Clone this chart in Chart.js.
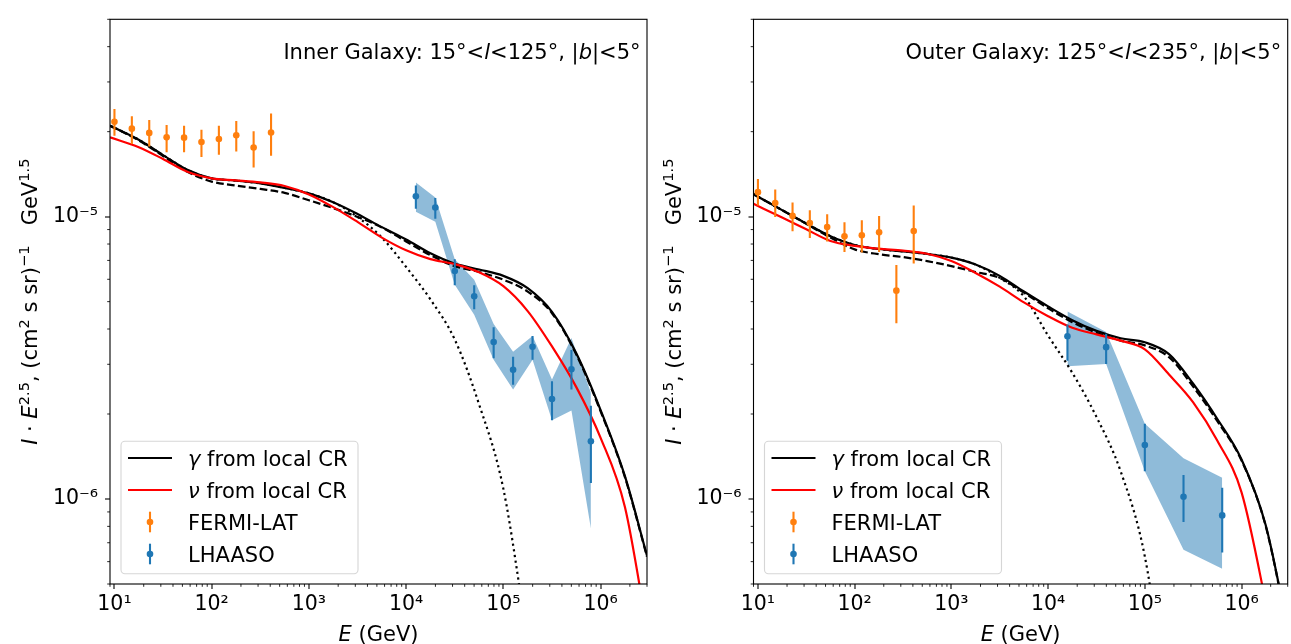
<!DOCTYPE html>
<html><head><meta charset="utf-8">
<script src="https://cdn.jsdelivr.net/npm/chart.js@4"></script>
<style>
html,body{margin:0;padding:0;background:#fff;width:1291px;height:644px;overflow:hidden}
canvas{position:absolute;top:0}
#c1{left:0}
#c2{left:660px}
</style></head><body>
<canvas id="c1" width="660" height="644"></canvas>
<canvas id="c2" width="631" height="644"></canvas>
<script>
// ---------------- data ----------------
const xRange = [9, 3e6];
const yRange = [5e-7, 5e-5];
const xMajorTicks = [10, 100, 1e3, 1e4, 1e5, 1e6];
const yMajorTicks = [1e-6, 1e-5];

// energy grid of the model curves (GeV)
const curveE = [9, 17.78, 31.62, 56.23, 100, 177.8, 316.2, 562.3, 1000, 1778, 3162, 5623, 1e4, 17783, 31623, 56234, 1e5, 177828, 316228, 562341, 1e6, 1778279, 3e6];

// Inner Galaxy model curves
const innerGamma  = [2.10e-5, 1.873e-5, 1.652e-5, 1.465e-5, 1.366e-5, 1.342e-5, 1.312e-5, 1.264e-5, 1.209e-5, 1.125e-5, 1.022e-5, 9.18e-6, 8.30e-6, 7.42e-6, 6.82e-6, 6.50e-6, 6.17e-6, 5.58e-6, 4.60e-6, 3.28e-6, 2.065e-6, 1.205e-6, 6.30e-7];
const innerNu     = [1.91e-5, 1.762e-5, 1.600e-5, 1.442e-5, 1.366e-5, 1.345e-5, 1.322e-5, 1.284e-5, 1.199e-5, 1.081e-5, 9.58e-6, 8.43e-6, 7.60e-6, 7.07e-6, 6.79e-6, 6.35e-6, 5.67e-6, 4.63e-6, 3.47e-6, 2.49e-6, 1.647e-6, 9.37e-7, 3.48e-7];
const innerDashed = [2.10e-5, 1.863e-5, 1.639e-5, 1.442e-5, 1.331e-5, 1.289e-5, 1.254e-5, 1.214e-5, 1.143e-5, 1.072e-5, 9.98e-6, 9.16e-6, 8.17e-6, 7.30e-6, 6.68e-6, 6.37e-6, 5.98e-6, 5.43e-6, 4.55e-6, 3.25e-6, 2.044e-6, 1.195e-6, 6.25e-7];
const innerDotted = [2.10e-5, 1.873e-5, 1.652e-5, 1.465e-5, 1.366e-5, 1.342e-5, 1.312e-5, 1.264e-5, 1.209e-5, 1.125e-5, 9.98e-6, 8.43e-6, 6.63e-6, 5.09e-6, 3.67e-6, 2.165e-6, 1.086e-6, 3.14e-7];

// Outer Galaxy model curves
const outerGamma  = [1.20e-5, 1.055e-5, 9.46e-6, 8.53e-6, 7.94e-6, 7.68e-6, 7.53e-6, 7.38e-6, 7.16e-6, 6.77e-6, 6.17e-6, 5.43e-6, 4.81e-6, 4.30e-6, 3.94e-6, 3.71e-6, 3.59e-6, 3.26e-6, 2.56e-6, 1.92e-6, 1.380e-6, 8.07e-7, 3.48e-7];
const outerNu     = [1.11e-5, 9.93e-6, 9.02e-6, 8.20e-6, 7.88e-6, 7.70e-6, 7.58e-6, 7.39e-6, 6.96e-6, 6.32e-6, 5.65e-6, 4.97e-6, 4.44e-6, 4.04e-6, 3.83e-6, 3.64e-6, 3.39e-6, 2.76e-6, 2.20e-6, 1.608e-6, 1.055e-6, 4.30e-7, 1.69e-7];
const outerDashed = [1.20e-5, 1.055e-5, 9.43e-6, 8.43e-6, 7.66e-6, 7.36e-6, 7.19e-6, 6.96e-6, 6.68e-6, 6.37e-6, 6.07e-6, 5.38e-6, 4.74e-6, 4.23e-6, 3.88e-6, 3.64e-6, 3.50e-6, 3.18e-6, 2.50e-6, 1.887e-6, 1.369e-6, 8.01e-7, 3.45e-7];
const outerDotted = [1.20e-5, 1.055e-5, 9.46e-6, 8.53e-6, 7.94e-6, 7.68e-6, 7.53e-6, 7.38e-6, 7.16e-6, 6.77e-6, 6.07e-6, 5.22e-6, 3.79e-6, 2.80e-6, 1.954e-6, 1.253e-6, 6.26e-7, 1.69e-7];

// FERMI-LAT points
const fermiE = [10, 15.1, 22.8, 34.4, 52.0, 78.5, 118.6, 179, 270, 408];
const innerFermi   = [2.169e-5, 2.05e-5, 1.98e-5, 1.909e-5, 1.905e-5, 1.838e-5, 1.883e-5, 1.943e-5, 1.757e-5, 1.986e-5];
const innerFermiLo = [1.934e-5, 1.81e-5, 1.771e-5, 1.692e-5, 1.692e-5, 1.625e-5, 1.656e-5, 1.70e-5, 1.492e-5, 1.643e-5];
const innerFermiHi = [2.406e-5, 2.27e-5, 2.198e-5, 2.113e-5, 2.10e-5, 2.03e-5, 2.10e-5, 2.182e-5, 2.007e-5, 2.318e-5];
const outerFermi   = [1.221e-5, 1.118e-5, 1.006e-5, 9.49e-6, 9.19e-6, 8.52e-6, 8.59e-6, 8.80e-6, 5.47e-6, 8.90e-6];
const outerFermiLo = [1.095e-5, 9.98e-6, 8.87e-6, 8.41e-6, 8.17e-6, 7.50e-6, 7.46e-6, 7.50e-6, 4.19e-6, 6.83e-6];
const outerFermiHi = [1.360e-5, 1.248e-5, 1.122e-5, 1.053e-5, 1.019e-5, 9.56e-6, 9.72e-6, 1.006e-5, 6.74e-6, 1.095e-5];

// LHAASO points
const innerLhaasoE  = [12589, 19953, 31623, 50119, 79433, 125893, 199526, 316228, 501187, 794328];
const innerLhaaso   = [1.18e-5, 1.078e-5, 6.42e-6, 5.22e-6, 3.60e-6, 2.87e-6, 3.46e-6, 2.26e-6, 2.88e-6, 1.60e-6];
const innerLhaasoLo = [1.066e-5, 9.84e-6, 5.71e-6, 4.70e-6, 3.15e-6, 2.54e-6, 3.11e-6, 1.90e-6, 2.44e-6, 1.14e-6];
const innerLhaasoHi = [1.29e-5, 1.164e-5, 7.07e-6, 5.71e-6, 4.06e-6, 3.19e-6, 3.78e-6, 2.61e-6, 3.37e-6, 2.14e-6];
const innerBandLo   = [1.04e-5, 9.59e-6, 5.74e-6, 4.49e-6, 3.11e-6, 2.44e-6, 3.11e-6, 1.90e-6, 2.06e-6, 7.86e-7];
const innerBandHi   = [1.32e-5, 1.17e-5, 7.07e-6, 5.98e-6, 4.17e-6, 3.32e-6, 3.78e-6, 2.65e-6, 3.72e-6, 2.38e-6];

const outerLhaasoE  = [15849, 39811, 100000, 251189, 630957];
const outerLhaaso   = [3.77e-6, 3.45e-6, 1.553e-6, 1.019e-6, 8.75e-7];
const outerLhaasoLo = [3.09e-6, 3.01e-6, 1.254e-6, 8.29e-7, 6.47e-7];
const outerLhaasoHi = [4.15e-6, 3.85e-6, 1.846e-6, 1.215e-6, 1.097e-6];
const outerBandLo   = [2.95e-6, 3.01e-6, 1.254e-6, 6.61e-7, 5.66e-7];
const outerBandHi   = [4.61e-6, 3.90e-6, 1.846e-6, 1.395e-6, 1.189e-6];

// ---------------- styling helpers ----------------
const FAMILY = '"DejaVu Sans", sans-serif';
const FS = 21;
const TICK_FS = 20.5;
const C_ORANGE = '#ff7f0e', C_BLUE = '#1f77b4', C_BAND = 'rgba(31,119,180,0.5)';
const SUP = {'0':'⁰','1':'¹','2':'²','3':'³','4':'⁴','5':'⁵','6':'⁶','7':'⁷','8':'⁸','9':'⁹','-':'⁻'};
const powLabel = v => '10' + String(Math.round(Math.log10(v))).split('').map(c => SUP[c]).join('');

function fontFor(p, fs) { return (p.it ? 'italic ' : '') + (p.sup ? fs * 0.7 : fs) + 'px ' + FAMILY; }
function richWidth(ctx, parts, fs) {
  let w = 0;
  parts.forEach(p => { ctx.font = fontFor(p, fs); w += ctx.measureText(p.t).width; });
  return w;
}
function drawRich(ctx, parts, x, y, align, fs) {
  const w = richWidth(ctx, parts, fs);
  let cx = align === 'right' ? x - w : (align === 'center' ? x - w / 2 : x);
  ctx.textAlign = 'left'; ctx.textBaseline = 'alphabetic'; ctx.fillStyle = '#000';
  parts.forEach(p => {
    ctx.font = fontFor(p, fs);
    ctx.fillText(p.t, cx, y - (p.sup ? fs * 0.38 : 0));
    cx += ctx.measureText(p.t).width;
  });
}

function lineDS(label, ys, color, dash, order, legendParts) {
  return { label, data: ys.map((y, i) => ({ x: curveE[i], y })), borderColor: color, borderWidth: 2.2,
    borderDash: dash, borderCapStyle: 'butt', pointRadius: 0, fill: false,
    cubicInterpolationMode: 'monotone', order, legendParts };
}
function pointsDS(label, E, ys, lo, hi, color, legendParts) {
  return { label, data: ys.map((y, i) => ({ x: E[i], y })), showLine: false, pointRadius: 3.3,
    pointHoverRadius: 3.3, pointBackgroundColor: color, pointBorderWidth: 0, borderColor: color,
    backgroundColor: color, errE: E, errLo: lo, errHi: hi, errColor: color, order: 1, legendParts };
}
function bandDS(E, hi, lo) {
  return [
    { label: 'band-hi', data: hi.map((y, i) => ({ x: E[i], y })), borderWidth: 0, borderColor: 'rgba(0,0,0,0)',
      pointRadius: 0, backgroundColor: C_BAND, fill: '+1', tension: 0, order: 10 },
    { label: 'band-lo', data: lo.map((y, i) => ({ x: E[i], y })), borderWidth: 0, borderColor: 'rgba(0,0,0,0)',
      pointRadius: 0, fill: false, tension: 0, order: 10 }
  ];
}

function minorValues(min, max) {
  const out = [];
  for (let d = Math.floor(Math.log10(min)); d <= Math.ceil(Math.log10(max)); d++) {
    for (let k = 2; k <= 9; k++) {
      const v = k * Math.pow(10, d);
      if (v >= min * 0.9999 && v <= max * 1.0001) out.push(v);
    }
  }
  return out;
}

const decorPlugin = {
  id: 'decor',
  afterDatasetsDraw(chart) {
    const ctx = chart.ctx, xs = chart.scales.x, ys = chart.scales.y, ca = chart.chartArea;
    // error bars
    ctx.save();
    ctx.beginPath(); ctx.rect(ca.left, ca.top, ca.right - ca.left, ca.bottom - ca.top); ctx.clip();
    chart.data.datasets.forEach(ds => {
      if (!ds.errLo) return;
      ctx.strokeStyle = ds.errColor; ctx.lineWidth = 2.1; ctx.lineCap = 'butt';
      ds.errE.forEach((e, i) => {
        const px = xs.getPixelForValue(e);
        ctx.beginPath();
        ctx.moveTo(px, ys.getPixelForValue(ds.errLo[i]));
        ctx.lineTo(px, ys.getPixelForValue(ds.errHi[i]));
        ctx.stroke();
      });
    });
    ctx.restore();
    // legend
    const items = chart.data.datasets.filter(d => d.legendParts);
    const x0 = ca.left + 11, w = 237, h = 132.5, y1 = ca.bottom - 10.3, y0 = y1 - h;
    ctx.save();
    ctx.beginPath();
    if (ctx.roundRect) ctx.roundRect(x0, y0, w, h, 4); else ctx.rect(x0, y0, w, h);
    ctx.fillStyle = 'rgba(255,255,255,0.8)'; ctx.fill();
    ctx.strokeStyle = 'rgba(204,204,204,0.8)'; ctx.lineWidth = 1.1; ctx.stroke();
    items.forEach((d, i) => {
      const yc = y0 + 16.8 + 32 * i;
      const hx0 = x0 + 7, hx1 = x0 + 51;
      if (d.errLo) {
        ctx.strokeStyle = d.errColor; ctx.lineWidth = 2.1; ctx.setLineDash([]);
        ctx.beginPath(); ctx.moveTo((hx0 + hx1) / 2, yc - 10.3); ctx.lineTo((hx0 + hx1) / 2, yc + 10.3); ctx.stroke();
        ctx.fillStyle = d.errColor; ctx.beginPath(); ctx.arc((hx0 + hx1) / 2, yc, 3.3, 0, Math.PI * 2); ctx.fill();
      } else {
        ctx.strokeStyle = d.borderColor; ctx.lineWidth = 2.2; ctx.setLineDash(d.borderDash || []);
        ctx.beginPath(); ctx.moveTo(hx0, yc); ctx.lineTo(hx1, yc); ctx.stroke();
      }
      drawRich(ctx, d.legendParts, x0 + 67, yc + 7.5, 'left', FS);
    });
    ctx.restore();
  },
  afterDraw(chart) {
    const ctx = chart.ctx, xs = chart.scales.x, ys = chart.scales.y, ca = chart.chartArea;
    const cfg = chart.options.plugins.decor;
    ctx.save();
    // minor ticks
    ctx.strokeStyle = '#000'; ctx.lineWidth = 0.85;
    minorValues(xRange[0], xRange[1]).forEach(v => {
      const px = xs.getPixelForValue(v);
      ctx.beginPath(); ctx.moveTo(px, ca.bottom); ctx.lineTo(px, ca.bottom + 2.8); ctx.stroke();
    });
    minorValues(yRange[0], yRange[1]).forEach(v => {
      const py = ys.getPixelForValue(v);
      ctx.beginPath(); ctx.moveTo(ca.left, py); ctx.lineTo(ca.left - 2.8, py); ctx.stroke();
    });
    // frame
    ctx.lineWidth = 1.1; ctx.strokeStyle = '#000';
    ctx.strokeRect(ca.left, ca.top, ca.right - ca.left, ca.bottom - ca.top);
    // panel title
    drawRich(ctx, cfg.title, ca.right - 6.5, ca.top + 39.8, 'right', FS);
    // x label
    drawRich(ctx, [{ t: 'E', it: true }, { t: ' (GeV)' }], (ca.left + ca.right) / 2, 641, 'center', FS);
    // y label
    ctx.translate(ca.left - 73, (ca.top + ca.bottom) / 2);
    ctx.rotate(-Math.PI / 2);
    drawRich(ctx, [
      { t: 'I', it: true }, { t: ' · ' }, { t: 'E', it: true }, { t: '2.5', sup: true },
      { t: ', (cm' }, { t: '2', sup: true }, { t: ' s sr)' }, { t: '−1', sup: true },
      { t: '   GeV' }, { t: '1.5', sup: true }
    ], 0, 0, 'center', FS);
    ctx.restore();
  }
};

function makePanel(canvasId, yAxisWidth, padRight, title, datasets) {
  return new Chart(document.getElementById(canvasId), {
    type: 'line',
    data: { datasets },
    options: {
      responsive: false, animation: false, devicePixelRatio: 1,
      layout: { padding: { left: 0, right: padRight, top: 9, bottom: 0 } },
      scales: {
        x: {
          type: 'logarithmic', min: xRange[0], max: xRange[1], bounds: 'data', position: 'bottom',
          afterBuildTicks: s => { s.ticks = xMajorTicks.map(v => ({ value: v })); },
          afterFit: s => { s.height = 60; },
          ticks: { callback: v => powLabel(v), autoSkip: false, maxRotation: 0, padding: 3,
            color: '#000', font: { family: FAMILY, size: TICK_FS } },
          grid: { display: true, drawOnChartArea: false, drawTicks: true, tickLength: 5, tickWidth: 1.1,
            tickColor: '#000', color: '#000', lineWidth: 0 },
          border: { display: false }
        },
        y: {
          type: 'logarithmic', min: yRange[0], max: yRange[1], bounds: 'data', position: 'left',
          afterBuildTicks: s => { s.ticks = yMajorTicks.map(v => ({ value: v })); },
          afterFit: s => { s.width = yAxisWidth; },
          ticks: { callback: v => powLabel(v), autoSkip: false, padding: 7,
            color: '#000', font: { family: FAMILY, size: TICK_FS } },
          grid: { display: true, drawOnChartArea: false, drawTicks: true, tickLength: 5, tickWidth: 1.1,
            tickColor: '#000', color: '#000', lineWidth: 0 },
          border: { display: false }
        }
      },
      plugins: { legend: { display: false }, tooltip: { enabled: false }, decor: { title } }
    },
    plugins: [decorPlugin]
  });
}

const gammaLabel = [{ t: 'γ', it: true }, { t: ' from local CR' }];
const nuLabel = [{ t: 'ν', it: true }, { t: ' from local CR' }];

makePanel('c1', 110, 13,
  [{ t: 'Inner Galaxy: 15°<' }, { t: 'l', it: true }, { t: '<125°, |' }, { t: 'b', it: true }, { t: '|<5°' }],
  [
    lineDS('γ from local CR', innerGamma, '#000000', [], 4, gammaLabel),
    lineDS('ν from local CR', innerNu, '#ff0000', [], 3, nuLabel),
    pointsDS('FERMI-LAT', fermiE, innerFermi, innerFermiLo, innerFermiHi, C_ORANGE, [{ t: 'FERMI-LAT' }]),
    pointsDS('LHAASO', innerLhaasoE, innerLhaaso, innerLhaasoLo, innerLhaasoHi, C_BLUE, [{ t: 'LHAASO' }]),
    lineDS('dashed', innerDashed, '#000000', [7.7, 3.3], 5),
    lineDS('dotted', innerDotted, '#000000', [2.2, 3.5], 5),
    ...bandDS(innerLhaasoE, innerBandHi, innerBandLo)
  ]);

makePanel('c2', 93.5, 1,
  [{ t: 'Outer Galaxy: 125°<' }, { t: 'l', it: true }, { t: '<235°, |' }, { t: 'b', it: true }, { t: '|<5°' }],
  [
    lineDS('γ from local CR', outerGamma, '#000000', [], 4, gammaLabel),
    lineDS('ν from local CR', outerNu, '#ff0000', [], 3, nuLabel),
    pointsDS('FERMI-LAT', fermiE, outerFermi, outerFermiLo, outerFermiHi, C_ORANGE, [{ t: 'FERMI-LAT' }]),
    pointsDS('LHAASO', outerLhaasoE, outerLhaaso, outerLhaasoLo, outerLhaasoHi, C_BLUE, [{ t: 'LHAASO' }]),
    lineDS('dashed', outerDashed, '#000000', [7.7, 3.3], 5),
    lineDS('dotted', outerDotted, '#000000', [2.2, 3.5], 5),
    ...bandDS(outerLhaasoE, outerBandHi, outerBandLo)
  ]);
</script>
</body></html>
